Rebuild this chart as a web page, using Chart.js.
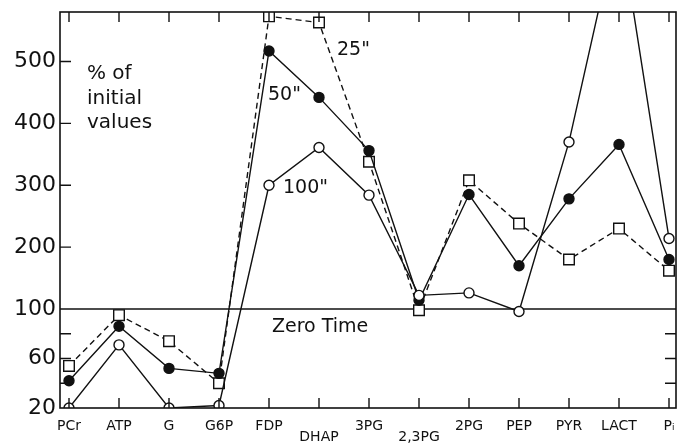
<!DOCTYPE html>
<html>
<head>
<meta charset="utf-8">
<script src="https://cdn.jsdelivr.net/npm/chart.js@4/dist/chart.umd.min.js"></script>
<style>
  html, body { margin: 0; padding: 0; background: #fff; }
  #wrap { width: 679px; height: 444px; position: relative; }
</style>
</head>
<body>
<div id="wrap"><canvas id="c"></canvas></div>
<script>
// ---- data ----
const categories = ['PCr','ATP','G','G6P','FDP','DHAP','3PG','2,3PG','2PG','PEP','PYR','LACT','P\u1D62'];
const lowLabels = ['DHAP','2,3PG'];
const sec25  = [54, 95, 74, 40, 573, 563, 338, 99, 308, 238, 180, 230, 162];
const sec50  = [42, 86, 52, 48, 517, 442, 356, 114, 285, 170, 278, 366, 180];
const sec100 = [20, 71, 20, 22, 300, 361, 284, 122, 126, 98, 370, 730, 214];
const yTickLabels = [20, 60, 100, 200, 300, 400, 500];
const yMinorInner = [40, 60, 80, 200, 300, 400, 500];
const yMinorRight = [40, 60, 80];
const zeroTime = 100;

// broken scale: below 100 the axis is stretched by factor 2
const K = 2;
const fwd = v => v >= 100 ? v : 100 - K * (100 - v);
const inv = d => d >= 100 ? d : 100 - (100 - d) / K;

const toPts = arr => arr.map((v, i) => ({x: i, y: fwd(v)}));

const FONT = '"DejaVu Sans", sans-serif';
const INK = '#111';
const RIGHT_GAP = 3;

const decor = {
  id: 'decor',
  afterLayout(chart) {
    const a = chart.chartArea, x = chart.scales.x;
    const dx = (chart.width - RIGHT_GAP) - a.right;
    if (dx !== 0) {
      a.right += dx; a.width += dx;
      x.right += dx; x.width += dx;
      x.configure();
    }
  },
  beforeDatasetsDraw(chart) {
    const {ctx, chartArea: a, scales: {x, y}} = chart;
    ctx.save();
    ctx.strokeStyle = INK;
    ctx.lineWidth = 1.6;
    const yz = y.getPixelForValue(fwd(zeroTime));
    ctx.beginPath(); ctx.moveTo(a.left, yz); ctx.lineTo(a.right, yz); ctx.stroke();
    ctx.restore();
  },
  afterDatasetsDraw(chart) {
    const {ctx, chartArea: a, scales: {x, y}} = chart;
    ctx.save();
    ctx.strokeStyle = INK;
    ctx.lineWidth = 1.6;
    ctx.strokeRect(a.left, a.top, a.right - a.left, a.bottom - a.top);
    ctx.lineWidth = 1.4;
    ctx.beginPath();
    categories.forEach((c, i) => {
      const px = x.getPixelForValue(i);
      ctx.moveTo(px, a.top); ctx.lineTo(px, a.top + 10);
      ctx.moveTo(px, a.bottom); ctx.lineTo(px, a.bottom - 10);
    });
    yMinorInner.forEach(v => {
      const py = y.getPixelForValue(fwd(v));
      ctx.moveTo(a.left, py); ctx.lineTo(a.left + 11, py);
    });
    yMinorRight.forEach(v => {
      const py = y.getPixelForValue(fwd(v));
      ctx.moveTo(a.right, py); ctx.lineTo(a.right - 11, py);
    });
    ctx.stroke();

    ctx.fillStyle = INK;
    ctx.textBaseline = 'middle';
    ctx.textAlign = 'left';
    ctx.font = '20px ' + FONT;
    ctx.fillText('% of', 87, 74);
    ctx.fillText('initial', 87, 99);
    ctx.fillText('values', 87, 123);
    ctx.font = '19px ' + FONT;
    ctx.fillText('25"', 337, 50);
    ctx.fillText('50"', 268, 95);
    ctx.fillText('100"', 283, 188);
    ctx.fillText('Zero Time', 272, 327);
    ctx.restore();
  }
};

const common = {
  borderColor: INK,
  borderWidth: 1.4,
  pointBorderColor: INK,
  pointBorderWidth: 1.4,
  tension: 0
};

const noPad = s => { s.paddingLeft = 0; s.paddingRight = 0; s.paddingTop = 0; s.paddingBottom = 0; };

new Chart(document.getElementById('c'), {
  type: 'line',
  data: {
    datasets: [
      Object.assign({label: '100"', data: toPts(sec100), pointStyle: 'circle', pointRadius: 5, pointBackgroundColor: '#fff'}, common),
      Object.assign({label: '50"', data: toPts(sec50), pointStyle: 'circle', pointRadius: 5, pointBackgroundColor: INK}, common),
      Object.assign({label: '25"', data: toPts(sec25), pointStyle: 'rect', pointRadius: 7.5, pointBackgroundColor: '#fff', borderDash: [6, 4]}, common)
    ]
  },
  options: {
    responsive: true,
    maintainAspectRatio: false,
    animation: false,
    events: [],
    layout: {padding: {top: 12, right: 3, left: 0, bottom: 0}},
    plugins: {legend: {display: false}, tooltip: {enabled: false}, title: {display: false}},
    scales: {
      x: {
        type: 'linear',
        min: -0.18, max: 12.14,
        grid: {display: false, drawTicks: false},
        border: {display: false},
        afterBuildTicks: s => { s.ticks = categories.map((c, i) => ({value: i})); },
        afterFit: s => { s.height = 36; noPad(s); },
        ticks: {
          color: INK,
          padding: 13,
          maxRotation: 0,
          autoSkip: false,
          font: {family: FONT, size: 14, lineHeight: 0.8},
          callback: v => {
            const lab = categories[v];
            return lowLabels.includes(lab) ? ['', lab] : lab;
          }
        }
      },
      y: {
        type: 'linear',
        min: fwd(20), max: 580,
        grid: {display: false, drawTicks: false},
        border: {display: false},
        afterBuildTicks: s => { s.ticks = yTickLabels.map(v => ({value: fwd(v)})); },
        afterFit: s => { s.width = 60; noPad(s); },
        ticks: {
          color: INK,
          padding: 4,
          font: {family: FONT, size: 22},
          callback: v => String(Math.round(inv(v)))
        }
      }
    }
  },
  plugins: [decor]
});
</script>
</body>
</html>
